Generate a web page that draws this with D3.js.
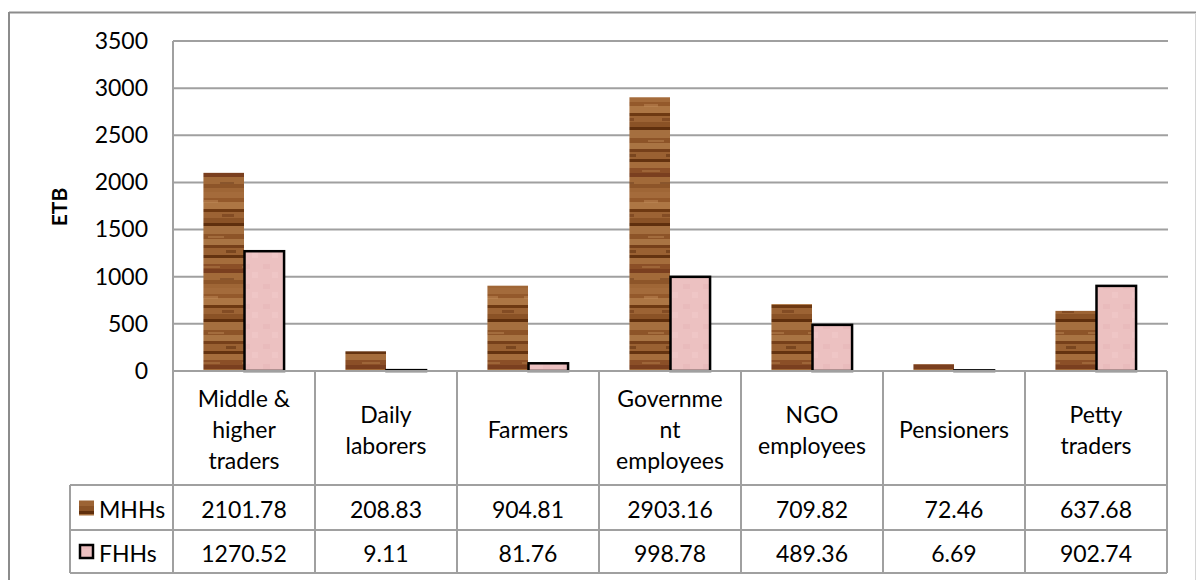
<!DOCTYPE html>
<html>
<head>
<meta charset="utf-8">
<script src="https://cdn.jsdelivr.net/npm/d3@7"></script>
<style>
  html, body { margin: 0; padding: 0; background: #fff; }
  svg { display: block; font-family: Lato, "Open Sans", sans-serif; }
</style>
</head>
<body>
<svg id="chart" width="1196" height="580"></svg>
<script>
// ---- data ----
const categories = ["Middle & higher traders", "Daily laborers", "Farmers", "Government employees", "NGO employees", "Pensioners", "Petty traders"];
const categoryLines = [["Middle &", "higher", "traders"], ["Daily", "laborers"], ["Farmers"], ["Governme", "nt", "employees"], ["NGO", "employees"], ["Pensioners"], ["Petty", "traders"]];
const seriesNames = ["MHHs", "FHHs"];
const mhhValues = [2101.78, 208.83, 904.81, 2903.16, 709.82, 72.46, 637.68];
const fhhValues = [1270.52, 9.11, 81.76, 998.78, 489.36, 6.69, 902.74];
const yTicks = [0, 500, 1000, 1500, 2000, 2500, 3000, 3500];
const yTitle = "ETB";

const seriesValues = [mhhValues, fhhValues];

// ---- layout ----
const svg = d3.select("#chart");
const plotL = 173, plotR = 1167, plotT = 41, plotB = 371;
const headerB = 485, row1B = 530, row2B = 573, legendL = 70;
const gridColor = "#a0a0a0";
const FS = 23;

// wood texture pattern
const defs = svg.append("defs");
const wood = defs.append("pattern").attr("id", "wood").attr("patternUnits", "userSpaceOnUse")
  .attr("width", 40).attr("height", 96);
const stripes = [[0,6,"#a46b3b"],[6,4,"#94592b"],[10,7,"#ad7644"],[17,3,"#6e3912"],[20,6,"#9c6334"],[26,5,"#8a5226"],[31,3,"#5f2f0d"],[34,8,"#a56f3f"],[42,5,"#8d5428"],[47,6,"#a97443"],[53,3,"#76401a"],[56,7,"#9a6132"],[63,3,"#643310"],[66,6,"#a56d3c"],[72,5,"#8b4f27"],[77,4,"#7a3f1f"],[81,7,"#a26a39"],[88,4,"#8d5529"],[92,4,"#9f6636"]];
wood.selectAll("rect.s").data(stripes).join("rect").attr("class", "s")
  .attr("x", 0).attr("y", d => d[0]).attr("width", 40).attr("height", d => d[1]).attr("fill", d => d[2]);
const blotches = [[4,8,14,3,"#c08a58"],[22,22,12,3,"#6a3514"],[8,44,16,2,"#b98452"],[26,58,10,3,"#5a2c0c"],[2,74,18,2,"#b27c4a"],[20,86,14,2,"#704020"]];
wood.selectAll("rect.b").data(blotches).join("rect").attr("class", "b")
  .attr("x", d => d[0]).attr("y", d => d[1]).attr("width", d => d[2]).attr("height", d => d[3]).attr("fill", d => d[4]).attr("opacity", 0.5);
const pink = defs.append("pattern").attr("id", "pinkTex").attr("patternUnits", "userSpaceOnUse")
  .attr("width", 20).attr("height", 20);
pink.append("rect").attr("width", 20).attr("height", 20).attr("fill", "#ecc1c1");
pink.append("rect").attr("x", 3).attr("y", 4).attr("width", 7).attr("height", 5).attr("fill", "#e8b8b9").attr("opacity", 0.6);
pink.append("rect").attr("x", 12).attr("y", 12).attr("width", 6).attr("height", 6).attr("fill", "#f1caca").attr("opacity", 0.6);

const fills = ["url(#wood)", "url(#pinkTex)"];
const strokes = ["none", "#000"];

// outer frame
svg.append("line").attr("x1", 9).attr("x2", 1196).attr("y1", 12.5).attr("y2", 12.5).attr("stroke", "#8c8c8c").attr("stroke-width", 2);
svg.append("line").attr("x1", 9).attr("x2", 9).attr("y1", 12).attr("y2", 580).attr("stroke", "#8c8c8c").attr("stroke-width", 2);
svg.append("line").attr("x1", 1195.5).attr("x2", 1195.5).attr("y1", 13).attr("y2", 580).attr("stroke", "#d4d4d4").attr("stroke-width", 1);

// scales
const x0 = d3.scaleBand().domain(categories).range([plotL, plotR]).paddingInner(0).paddingOuter(0);
const x1 = d3.scaleBand().domain(seriesNames).range([0, x0.bandwidth()]).paddingInner(0).paddingOuter(0.75);
const y = d3.scaleLinear().domain([0, 3500]).range([plotB, plotT]);

// gridlines
svg.append("g").selectAll("line").data(yTicks.filter(t => t > 0)).join("line")
  .attr("x1", plotL).attr("x2", plotR + 1)
  .attr("y1", d => y(d)).attr("y2", d => y(d))
  .attr("stroke", gridColor).attr("stroke-width", 2);

// y axis labels via d3 axis
const yAxis = svg.append("g").attr("transform", `translate(${plotL},0)`)
  .call(d3.axisLeft(y).tickValues(yTicks).tickFormat(d3.format("d")).tickSize(0).tickPadding(25));
yAxis.select(".domain").remove();
yAxis.selectAll("text").style("font-size", FS + "px").style("font-family", "Lato, sans-serif").attr("fill", "#000");

// y title
svg.append("text").attr("transform", "translate(67,207) rotate(-90)")
  .attr("text-anchor", "middle").style("font-weight", "bold").style("font-size", "21px").attr("fill", "#000").text(yTitle);

// bars
seriesNames.forEach((s, si) => {
  svg.append("g").selectAll("rect").data(categories).join("rect")
    .attr("x", c => x0(c) + x1(s) + (si === 1 ? 0.5 : 0))
    .attr("y", (c, i) => y(seriesValues[si][i]))
    .attr("width", x1.bandwidth() - (si === 1 ? 1 : 0))
    .attr("height", (c, i) => plotB - y(seriesValues[si][i]))
    .attr("fill", fills[si])
    .attr("stroke", strokes[si]).attr("stroke-width", 2.5);
});

// table lines
const tl = svg.append("g").attr("stroke", gridColor).attr("stroke-width", 2);
tl.append("line").attr("x1", plotL).attr("x2", plotR).attr("y1", plotB).attr("y2", plotB);
tl.append("line").attr("x1", legendL).attr("x2", plotR).attr("y1", headerB).attr("y2", headerB);
tl.append("line").attr("x1", legendL).attr("x2", plotR).attr("y1", row1B).attr("y2", row1B);
tl.append("line").attr("x1", legendL).attr("x2", plotR).attr("y1", row2B).attr("y2", row2B);
tl.append("line").attr("x1", legendL).attr("x2", legendL).attr("y1", headerB).attr("y2", row2B);
tl.append("line").attr("x1", plotL).attr("x2", plotL).attr("y1", plotT).attr("y2", row2B);
tl.selectAll("line.v").data(categories).join("line").attr("class", "v")
  .attr("x1", c => x0(c) + x0.bandwidth()).attr("x2", c => x0(c) + x0.bandwidth())
  .attr("y1", plotB).attr("y2", row2B);

// category header labels
const lh = 31;
const hdr = svg.append("g").style("font-size", FS + "px").attr("text-anchor", "middle").attr("fill", "#000");
categories.forEach((c, i) => {
  const lines = categoryLines[i];
  const cx = x0(c) + x0.bandwidth() / 2;
  const cy = (plotB + headerB) / 2 + 1;
  lines.forEach((ln, j) => {
    hdr.append("text").attr("x", cx).attr("y", cy + (j - (lines.length - 1) / 2) * lh)
      .attr("dominant-baseline", "central").text(ln);
  });
});

// data rows
const rowCenters = [(headerB + row1B) / 2, (row1B + row2B) / 2];
seriesNames.forEach((s, si) => {
  const g = svg.append("g").style("font-size", FS + "px").attr("fill", "#000");
  g.selectAll("text").data(categories).join("text")
    .attr("x", c => x0(c) + x0.bandwidth() / 2).attr("y", rowCenters[si] + 1)
    .attr("text-anchor", "middle").attr("dominant-baseline", "central")
    .text((c, i) => seriesValues[si][i].toFixed(2));
  // legend key
  svg.append("rect").attr("x", si === 1 ? 80 : 79).attr("y", rowCenters[si] - 7 + (si === 1 ? 0.5 : 0))
    .attr("width", si === 1 ? 13 : 15).attr("height", si === 1 ? 13 : 15)
    .attr("fill", fills[si]).attr("stroke", strokes[si]).attr("stroke-width", 2.5);
  g.append("text").attr("x", 99).attr("y", rowCenters[si] + 1).attr("dominant-baseline", "central").text(s);
});
</script>
</body>
</html>
